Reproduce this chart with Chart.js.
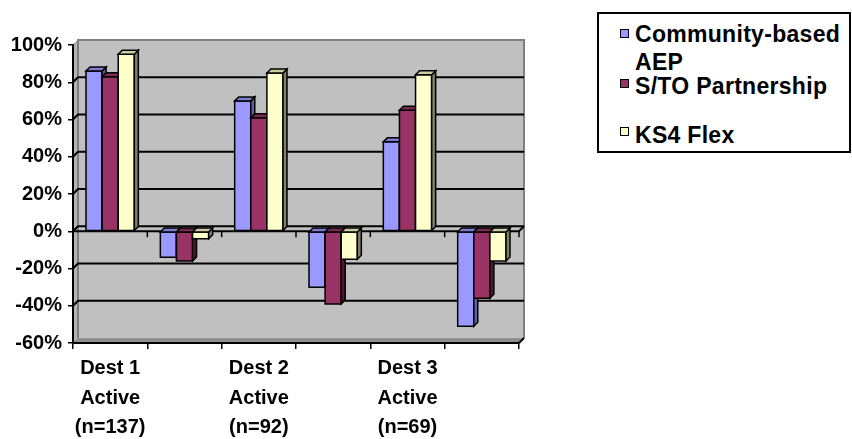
<!DOCTYPE html>
<html>
<head>
<meta charset="utf-8">
<script src="https://cdn.jsdelivr.net/npm/chart.js@4.4.1/dist/chart.umd.min.js"></script>
<style>
  html, body { margin: 0; padding: 0; background: #fff; }
  #wrap { position: relative; width: 852px; height: 439px; overflow: hidden; font-family: "Liberation Sans", Arial, sans-serif; }
  #chart { position: absolute; left: 0; top: 0; }
  .legend-box { position: absolute; left: 597px; top: 12px; width: 254px; height: 141px; border: 2px solid #000; box-sizing: border-box; background: #fff; }
  .swatch { position: absolute; left: 620px; width: 9px; height: 9px; border: 1px solid #000; box-sizing: border-box; }
  .ltext { position: absolute; left: 635px; font-weight: bold; font-size: 23px; line-height: 23px; letter-spacing: 0.3px; color: #000; white-space: nowrap; }
</style>
</head>
<body>
<div id="wrap">
  <canvas id="chart" width="852" height="439"></canvas>
  <div class="legend-box"></div>
  <div class="swatch" style="top:29px;background:#9999FF"></div>
  <div class="ltext" style="top:23px">Community-based</div>
  <div class="ltext" style="top:51px">AEP</div>
  <div class="swatch" style="top:79px;background:#993366"></div>
  <div class="ltext" style="top:75px">S/TO Partnership</div>
  <div class="swatch" style="top:127px;background:#FFFFCC"></div>
  <div class="ltext" style="top:124px">KS4 Flex</div>
</div>
<script>
// Categories: each destination is followed by an unlabelled "change" slot
const categories = [
  ["Dest 1", "Active", "(n=137)"], "",
  ["Dest 2", "Active", "(n=92)"], "",
  ["Dest 3", "Active", "(n=69)"], ""
];

// Percentages per programme
const communityAEP   = [86, -14, 70, -30, 48, -51];
const stoPartnership = [83, -16, 61, -39, 65, -36];
const ks4Flex        = [95, -4, 85, -15, 84, -16];

// Value axis range and step
const yMin = -60;
const yMax = 100;
const yStep = 20;

const seriesNames = ["Community-based AEP", "S/TO Partnership", "KS4 Flex"];

// Face colours for the 3-D bars: front, side, top
const faces = [
  { front: "#9999FF", side: "#5E5E9C", top: "#7C7CD0" },
  { front: "#993366", side: "#4C1933", top: "#7A2952" },
  { front: "#FFFFCC", side: "#808066", top: "#CCCCA3" }
];

const WALL_D = 5;   // depth offset of the back wall
const BAR_D = 4;    // depth offset of each bar

function poly(ctx, pts, fill) {
  ctx.beginPath();
  ctx.moveTo(pts[0][0], pts[0][1]);
  for (let i = 1; i < pts.length; i++) ctx.lineTo(pts[i][0], pts[i][1]);
  ctx.closePath();
  if (fill) { ctx.fillStyle = fill; ctx.fill(); }
  ctx.stroke();
}

// Grey back wall, side wall and floor behind the plot
const walls = {
  id: "walls",
  beforeDraw(chart) {
    const { ctx, chartArea: a } = chart;
    const d = WALL_D;
    ctx.save();
    ctx.fillStyle = "#fff";
    ctx.fillRect(0, 0, chart.width, chart.height);
    ctx.lineWidth = 1;
    ctx.strokeStyle = "#9A9A9A";
    // left wall
    poly(ctx, [[a.left, a.top], [a.left + d, a.top - d], [a.left + d, a.bottom - d], [a.left, a.bottom]], "#B4B4B4");
    // floor
    poly(ctx, [[a.left, a.bottom], [a.left + d, a.bottom - d], [a.right + d, a.bottom - d], [a.right, a.bottom]], "#8E8E8E");
    // back wall
    ctx.fillStyle = "#C0C0C0";
    ctx.fillRect(a.left + d, a.top - d, a.right - a.left, a.bottom - a.top);
    ctx.strokeStyle = "#7E7E7E";
    ctx.lineWidth = 2;
    ctx.beginPath();
    ctx.moveTo(a.left + d, a.bottom - d);
    ctx.lineTo(a.left + d, a.top - d);
    ctx.lineTo(a.right + d, a.top - d);
    ctx.lineTo(a.right + d, a.bottom - d);
    ctx.stroke();
    ctx.restore();
  },
  beforeDatasetsDraw(chart) {
    const { ctx, chartArea: a, scales } = chart;
    const y = scales.y, x = scales.x;
    const d = WALL_D;
    ctx.save();
    ctx.strokeStyle = "#000";
    ctx.lineWidth = 2;
    // gridlines running across the side wall and the back wall
    for (let v = yMin + yStep; v < yMax; v += yStep) {
      const py = y.getPixelForValue(v);
      ctx.beginPath();
      ctx.moveTo(a.left, py);
      ctx.lineTo(a.left + d, py - d);
      ctx.lineTo(a.right + d, py - d);
      ctx.stroke();
    }
    // category axis crossing at zero
    const y0 = y.getPixelForValue(0);
    ctx.beginPath();
    ctx.moveTo(a.left, y0);
    ctx.lineTo(a.right, y0);
    ctx.lineTo(a.right + d, y0 - d);
    ctx.stroke();
    ctx.lineWidth = 1.5;
    const n = categories.length;
    for (let i = 1; i <= n; i++) {
      const px = x.getPixelForValue(i - 0.5);
      ctx.beginPath();
      ctx.moveTo(px, y0);
      ctx.lineTo(px, y0 + 6);
      ctx.stroke();
    }
    // depth edge at the end of the bottom axis
    ctx.lineWidth = 2;
    ctx.beginPath();
    ctx.moveTo(a.right, a.bottom);
    ctx.lineTo(a.right + d, a.bottom - d);
    ctx.stroke();
    ctx.restore();
  }
};

// Adds the side and top faces to each bar, drawn per cluster left to right
const bars3d = {
  id: "bars3d",
  afterDatasetsDraw(chart) {
    const ctx = chart.ctx;
    const metas = chart.data.datasets.map((_, i) => chart.getDatasetMeta(i));
    const D = BAR_D;
    ctx.save();
    ctx.strokeStyle = "#000";
    ctx.lineWidth = 1.5;
    ctx.lineJoin = "miter";
    for (let j = 0; j < categories.length; j++) {
      metas.forEach((meta, i) => {
        const el = meta.data[j];
        const p = el.getProps(["x", "y", "base", "width"], true);
        const l = p.x - p.width / 2, r = p.x + p.width / 2;
        const top = Math.min(p.y, p.base), bot = Math.max(p.y, p.base);
        const f = faces[i];
        poly(ctx, [[l, top], [r, top], [r, bot], [l, bot]], f.front);
        poly(ctx, [[r, top], [r + D, top - D], [r + D, bot - D], [r, bot]], f.side);
        poly(ctx, [[l, top], [l + D, top - D], [r + D, top - D], [r, top]], f.top);
      });
    }
    ctx.restore();
  }
};

const tickFont = { family: "'Liberation Sans', Arial, sans-serif", weight: "bold", size: 20 };

new Chart(document.getElementById("chart"), {
  type: "bar",
  data: {
    labels: categories,
    datasets: [
      { label: seriesNames[0], data: communityAEP, backgroundColor: faces[0].front },
      { label: seriesNames[1], data: stoPartnership, backgroundColor: faces[1].front },
      { label: seriesNames[2], data: ks4Flex, backgroundColor: faces[2].front }
    ]
  },
  options: {
    responsive: false,
    animation: false,
    devicePixelRatio: 1,
    layout: { padding: { top: 45, right: 333, bottom: 0, left: 0 } },
    datasets: { bar: { categoryPercentage: 0.65, barPercentage: 1.0, borderWidth: 0 } },
    plugins: { legend: { display: false }, tooltip: { enabled: false } },
    scales: {
      x: {
        grid: { display: true, drawOnChartArea: false, offset: true, tickLength: 6, color: "#000", lineWidth: 1.5 },
        border: { display: true, color: "#000", width: 2 },
        ticks: {
          autoSkip: false, maxRotation: 0, minRotation: 0, padding: 5, color: "#000",
          font: Object.assign({}, tickFont, { lineHeight: "29.5px" })
        },
        afterFit(scale) { scale.height = 96; }
      },
      y: {
        min: yMin, max: yMax,
        grid: { display: true, drawOnChartArea: false, tickLength: 5, color: "#000", lineWidth: 1.5 },
        border: { display: true, color: "#000", width: 2 },
        ticks: {
          stepSize: yStep, padding: 6, color: "#000", font: tickFont,
          callback: (v) => v + "%"
        },
        afterFit(scale) { scale.width = 73; }
      }
    }
  },
  plugins: [walls, bars3d]
});
</script>
</body>
</html>
